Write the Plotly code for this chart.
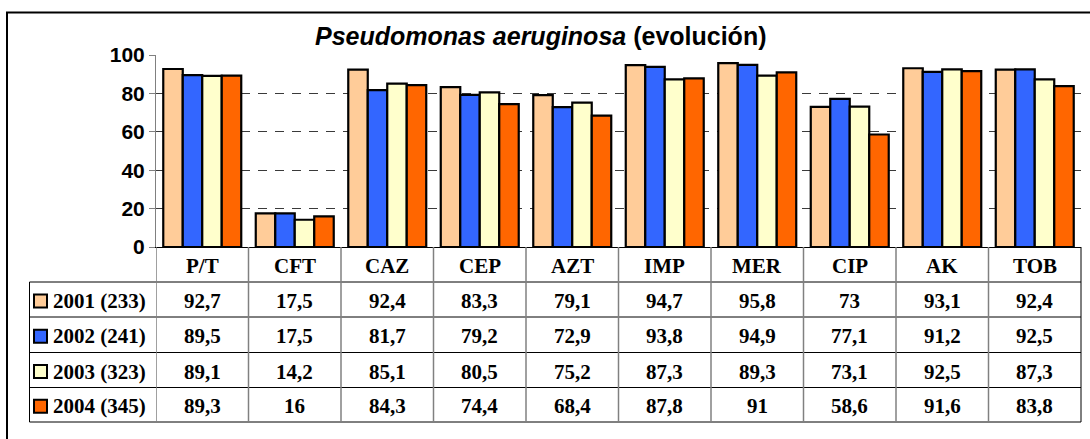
import plotly.graph_objects as go

# ---------------- data ----------------
categories = ["P/T", "CFT", "CAZ", "CEP", "AZT", "IMP", "MER", "CIP", "AK", "TOB"]
series_names = ["2001 (233)", "2002 (241)", "2003 (323)", "2004 (345)"]
v2001 = [92.7, 17.5, 92.4, 83.3, 79.1, 94.7, 95.8, 73, 93.1, 92.4]
v2002 = [89.5, 17.5, 81.7, 79.2, 72.9, 93.8, 94.9, 77.1, 91.2, 92.5]
v2003 = [89.1, 14.2, 85.1, 80.5, 75.2, 87.3, 89.3, 73.1, 92.5, 87.3]
v2004 = [89.3, 16, 84.3, 74.4, 68.4, 87.8, 91, 58.6, 91.6, 83.8]
y_ticks = [0, 20, 40, 60, 80, 100]
title_html = "<b><i>Pseudomonas aeruginosa</i> (evolución)</b>"

series_values = [v2001, v2002, v2003, v2004]
colors = ["#FFCC99", "#3366FF", "#FFFFCC", "#FF6600"]

# ---------------- geometry (figure pixels) ----------------
W, H = 1090, 439
L, R, T, B = 156, 9, 55, 192
PW = W - L - R
PH = H - T - B
PLOT_BOTTOM = H - B


def px_x(px):
    return (px - L) / PW


def px_y(py):
    return (PLOT_BOTTOM - py) / PH


def fmt(v):
    if float(v).is_integer():
        return str(int(v))
    return str(v).replace(".", ",")


fig = go.Figure()
for name, vals, col in zip(series_names, series_values, colors):
    fig.add_trace(go.Bar(
        x=categories, y=vals, name=name,
        marker=dict(color=col, line=dict(color="black", width=2.2)),
        showlegend=False,
    ))

sans = "Liberation Sans, Arial, sans-serif"
serif = "Liberation Serif, Times New Roman, serif"

fig.update_layout(
    width=W, height=H, autosize=False,
    margin=dict(l=L, r=R, t=T, b=B, pad=0),
    paper_bgcolor="white", plot_bgcolor="white",
    barmode="group", bargap=0.157, bargroupgap=0,
    xaxis=dict(
        type="category", range=[-0.5, len(categories) - 0.5],
        showticklabels=False, ticks="", showgrid=False, zeroline=False,
        showline=True, linecolor="black", linewidth=1,
    ),
    yaxis=dict(
        range=[0, 100], tickvals=y_ticks, ticks="outside", ticklen=6,
        tickcolor="#808080", tickwidth=1,
        showline=True, linecolor="#808080", linewidth=1,
        showgrid=True, gridcolor="#3a3a3a", gridwidth=1, griddash="9px,8px",
        zeroline=False,
        tickfont=dict(family=sans, size=21, color="black", weight="bold"),
    ),
)

shapes = []
annotations = []

# outer frame
shapes.append(dict(type="rect", xref="paper", yref="paper",
                   x0=px_x(7), x1=px_x(1120), y0=px_y(470), y1=px_y(12.5),
                   line=dict(color="black", width=2), fillcolor="rgba(0,0,0,0)",
                   layer="above"))

# title
annotations.append(dict(text=title_html, xref="paper", yref="paper",
                        x=px_x(541), y=px_y(36), xanchor="center", yanchor="middle",
                        showarrow=False,
                        font=dict(family=sans, size=25, color="black", weight="bold")))

# table rows
row_edges = [282, 317, 352.5, 387.5, 422]
table_left = 29.5
table_right = L + PW

for py in row_edges:
    shapes.append(dict(type="line", xref="paper", yref="paper",
                       x0=px_x(table_left), x1=px_x(table_right),
                       y0=px_y(py), y1=px_y(py),
                       line=dict(color="black", width=1)))
# left border of label column
shapes.append(dict(type="line", xref="paper", yref="paper",
                   x0=px_x(table_left), x1=px_x(table_left),
                   y0=px_y(row_edges[0]), y1=px_y(row_edges[-1]),
                   line=dict(color="black", width=1)))
# right border
shapes.append(dict(type="line", xref="paper", yref="paper",
                   x0=1, x1=1, y0=0, y1=px_y(row_edges[-1]),
                   line=dict(color="black", width=1)))
# vertical gray separators at category edges
for i in range(len(categories)):
    shapes.append(dict(type="line", xref="x", yref="paper",
                       x0=i - 0.5, x1=i - 0.5, y0=0, y1=px_y(row_edges[-1]),
                       line=dict(color="#808080", width=1.5)))

# header labels
for c in categories:
    annotations.append(dict(text="<b>%s</b>" % c, xref="x", yref="paper",
                            x=c, y=px_y(265.5), xanchor="center", yanchor="middle",
                            showarrow=False,
                            font=dict(family=serif, size=21, color="black")))

# data rows
for r, (name, vals, col) in enumerate(zip(series_names, series_values, colors)):
    top = row_edges[r]
    bot = row_edges[r + 1]
    cy = (top + bot) / 2 + 1.5
    # legend key
    shapes.append(dict(type="rect", xref="paper", yref="paper",
                       x0=px_x(34), x1=px_x(47), y0=px_y(cy + 6.5), y1=px_y(cy - 6.5),
                       fillcolor=col, line=dict(color="black", width=2)))
    annotations.append(dict(text="<b>%s</b>" % name, xref="paper", yref="paper",
                            x=px_x(51), y=px_y(cy), xanchor="left", yanchor="middle",
                            showarrow=False,
                            font=dict(family=serif, size=21, color="black")))
    for c, v in zip(categories, vals):
        annotations.append(dict(text="<b>%s</b>" % fmt(v), xref="x", yref="paper",
                                x=c, y=px_y(cy), xanchor="center", yanchor="middle",
                                showarrow=False,
                                font=dict(family=serif, size=21, color="black")))

fig.update_layout(shapes=shapes, annotations=annotations)
fig.write_html("out.html",
               config={"displayModeBar": False},
               post_script="document.body.style.margin='0';document.body.style.padding='0';"
                           "document.body.style.overflow='hidden';")
